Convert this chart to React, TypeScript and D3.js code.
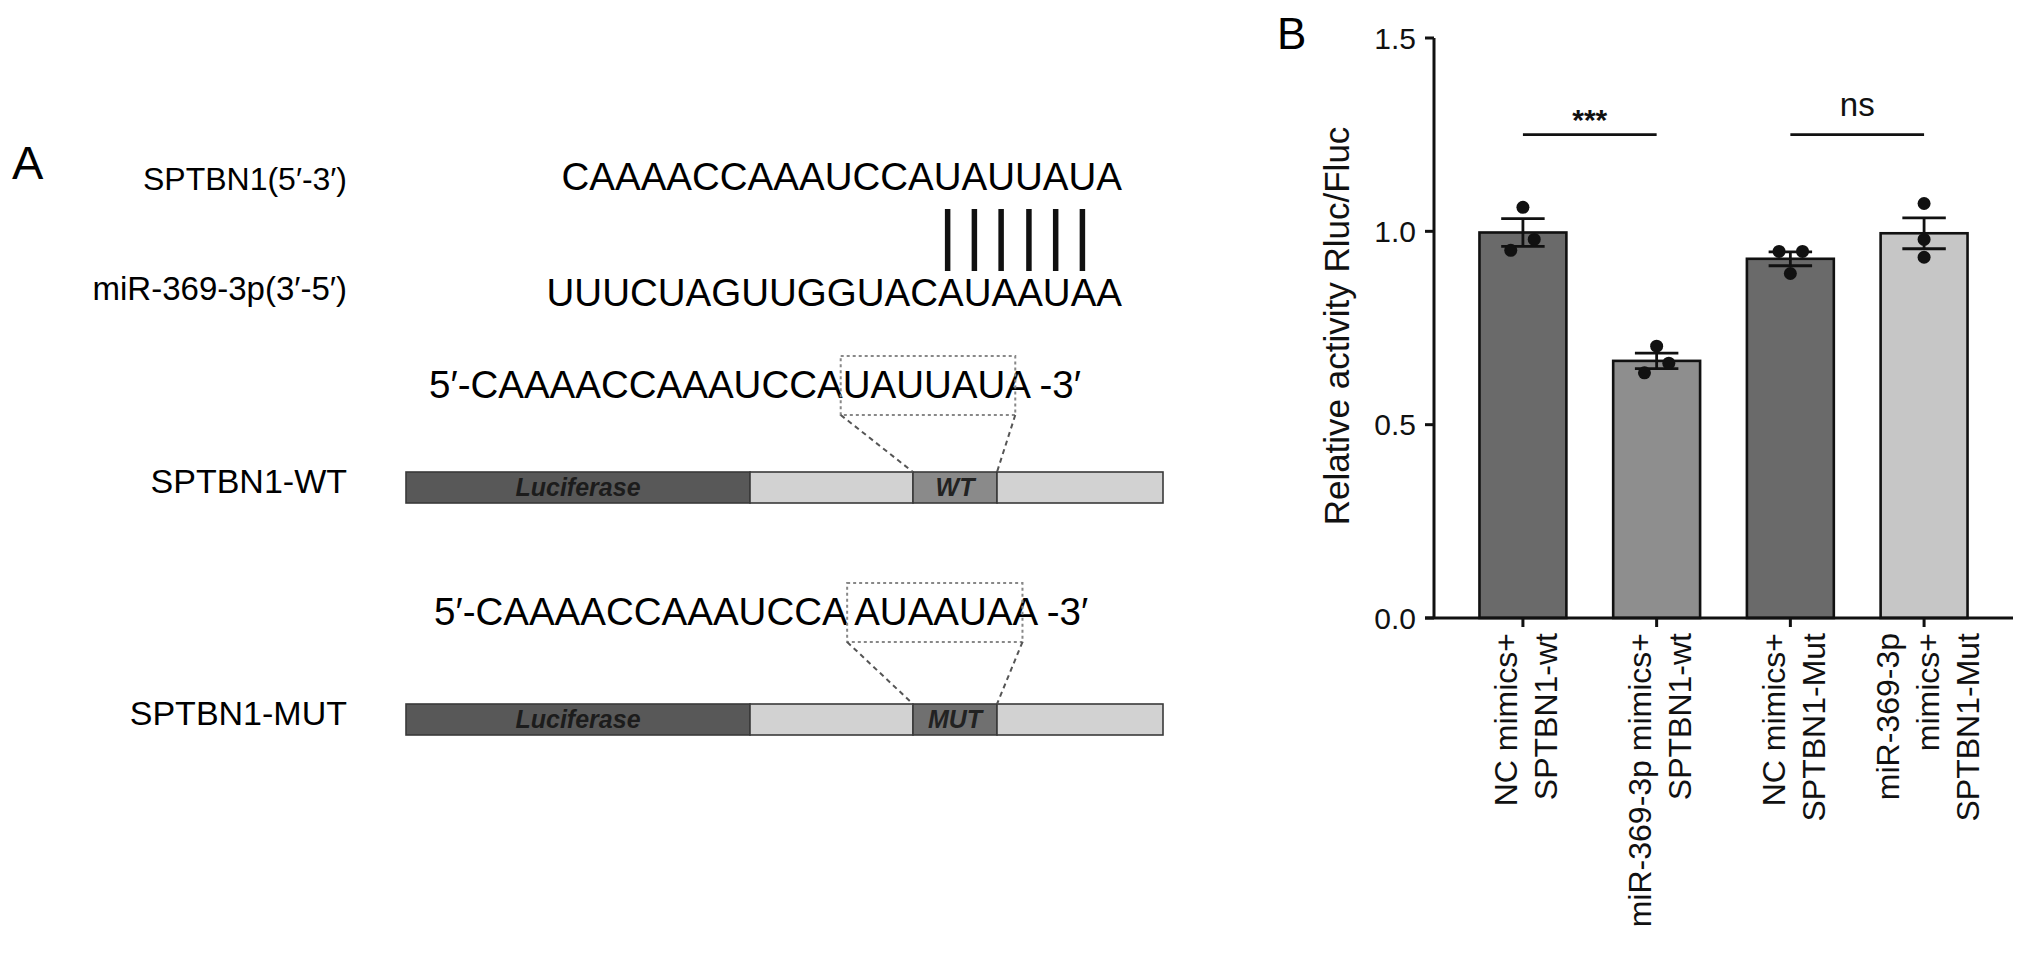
import React, { useLayoutEffect, useRef, useState } from "react";
import * as d3 from "d3";

// ---------- Panel B data ----------
const groups = ["g1", "g2", "g3", "g4"];
const groupLabels: string[][] = [
  ["NC mimics+", "SPTBN1-wt"],
  ["miR-369-3p mimics+", "SPTBN1-wt"],
  ["NC mimics+", "SPTBN1-Mut"],
  ["miR-369-3p", "mimics+", "SPTBN1-Mut"],
];
const means = [0.997, 0.665, 0.929, 0.995];
const sems = [0.036, 0.02, 0.018, 0.04];
const replicates: number[][] = [
  [1.062, 0.951, 0.979],
  [0.703, 0.659, 0.634],
  [0.948, 0.948, 0.891],
  [1.072, 0.979, 0.933],
];
// horizontal jitter of replicate dots, as a fraction of bar width
const jitter: number[][] = [
  [0, -0.14, 0.13],
  [0, 0.14, -0.14],
  [-0.13, 0.14, 0],
  [0, 0, 0],
];
const barFills = ["#6a6a6a", "#8e8e8e", "#6a6a6a", "#c6c6c6"];
const yTicks = [0, 0.5, 1.0, 1.5];
const comparisons: { a: number; b: number; label: string; y: number }[] = [
  { a: 0, b: 1, label: "***", y: 1.25 },
  { a: 2, b: 3, label: "ns", y: 1.25 },
];
const yTitle = "Relative activity Rluc/Fluc";

// ---------- Panel A data ----------
const targetLabel = "SPTBN1(5\u2032-3\u2032)";
const mirLabel = "miR-369-3p(3\u2032-5\u2032)";
const targetSeq = "CAAAACCAAAUCCAUAUUAUA";
const mirSeq = "UUUCUAGUUGGUACAUAAUAA";
const pairIdx = [14, 15, 16, 17, 18, 19];
const wtSeq = "5\u2032-CAAAACCAAAUCCAUAUUAUA -3\u2032";
const mutSeq = "5\u2032-CAAAACCAAAUCCA AUAAUAA -3\u2032";
const wtSeedStart = 17;
const mutSeedStart = 18;
const constructSegs = [344, 163, 84, 166];
const constructs = [
  { label: "SPTBN1-WT", site: "WT", siteFill: "#8a8a8a" },
  { label: "SPTBN1-MUT", site: "MUT", siteFill: "#707070" },
];

const FONT = "'Liberation Sans', Arial, Helvetica, sans-serif";

type Box = { x0: number; x1: number };

export default function App() {
  // ---- scales for panel B ----
  const y = d3.scaleLinear().domain([0, 1.5]).range([618, 38]);
  const x = d3
    .scaleBand<string>()
    .domain(groups)
    .range([1434, 2013])
    .paddingInner(0.35)
    .paddingOuter(0.34);
  const bw = x.bandwidth();
  const cx = (i: number) => (x(groups[i]) as number) + bw / 2;

  // ---- scales for panel A ----
  const segCum = constructSegs.reduce<number[]>((acc, v) => {
    acc.push((acc.length ? acc[acc.length - 1] : 0) + v);
    return acc;
  }, []);
  const cs = d3.scaleLinear().domain([0, segCum[segCum.length - 1]]).range([406, 1163]);
  const segStarts = [0, ...segCum.slice(0, -1)];
  const rowY = d3.scaleOrdinal<number, number>().domain([0, 1]).range([398, 625]);
  const barY = d3.scaleOrdinal<number, number>().domain([0, 1]).range([472, 704]);
  const barH = 31;

  const row1Ref = useRef<SVGTextElement>(null);
  const wtRef = useRef<SVGTextElement>(null);
  const mutRef = useRef<SVGTextElement>(null);
  const [pairX, setPairX] = useState<number[]>([]);
  const [boxes, setBoxes] = useState<Box[]>([]);

  useLayoutEffect(() => {
    const r1 = row1Ref.current;
    if (r1) {
      setPairX(
        pairIdx.map(
          (i) => (r1.getStartPositionOfChar(i).x + r1.getEndPositionOfChar(i).x) / 2
        )
      );
    }
    const b: Box[] = [];
    const w = wtRef.current;
    if (w) {
      b.push({
        x0: w.getStartPositionOfChar(wtSeedStart).x - 2,
        x1: w.getStartPositionOfChar(wtSeedStart + 6).x + 10,
      });
    }
    const m = mutRef.current;
    if (m) {
      b.push({
        x0: m.getStartPositionOfChar(mutSeedStart).x - 7,
        x1: m.getStartPositionOfChar(mutSeedStart + 6).x + 10,
      });
    }
    setBoxes(b);
  }, []);

  return (
    <div style={{ position: "absolute", left: 0, top: 0 }}>
      <svg width={2032} height={961} style={{ display: "block", background: "#fff" }} fontFamily={FONT}>
        <rect x={0} y={0} width={2032} height={961} fill="#fff" />

        {/* ================= Panel A ================= */}
        <text x={12} y={179} fontSize={47}>A</text>
        <text x={347} y={190} fontSize={32} textAnchor="end">{targetLabel}</text>
        <text x={347} y={300} fontSize={33} textAnchor="end">{mirLabel}</text>
        <text ref={row1Ref} x={1122} y={190} fontSize={38.5} textAnchor="end">{targetSeq}</text>
        <text x={1122} y={306} fontSize={38.5} textAnchor="end">{mirSeq}</text>
        {pairX.map((px, i) => (
          <line key={i} x1={px} x2={px} y1={209} y2={271} stroke="#111" strokeWidth={5.5} />
        ))}

        <text ref={wtRef} x={429} y={rowY(0)} fontSize={38.5}>{wtSeq}</text>
        <text ref={mutRef} x={434} y={rowY(1)} fontSize={38.5}>{mutSeq}</text>

        {constructs.map((c, ci) => {
          const by = barY(ci);
          const box = boxes[ci];
          const siteX0 = cs(segStarts[2]);
          const siteX1 = cs(segCum[2]);
          const ry = rowY(ci);
          return (
            <g key={ci}>
              <text x={347} y={by + 21} fontSize={34} textAnchor="end">{c.label}</text>
              {constructSegs.map((_, si) => (
                <rect
                  key={si}
                  x={cs(segStarts[si])}
                  y={by}
                  width={cs(segCum[si]) - cs(segStarts[si])}
                  height={barH}
                  fill={si === 0 ? "#585858" : si === 2 ? c.siteFill : "#d2d2d2"}
                  stroke="#3a3a3a"
                  strokeWidth={1.6}
                />
              ))}
              <text
                x={(cs(segStarts[0]) + cs(segCum[0])) / 2}
                y={by + 24}
                fontSize={25}
                fontWeight="bold"
                fontStyle="italic"
                textAnchor="middle"
                fill="#1c1c1c"
              >
                Luciferase
              </text>
              <text
                x={(siteX0 + siteX1) / 2}
                y={by + 24}
                fontSize={25}
                fontWeight="bold"
                fontStyle="italic"
                textAnchor="middle"
                fill="#222"
              >
                {c.site}
              </text>
              {box && (
                <g stroke="#888" strokeWidth={2} fill="none" strokeDasharray="3,3">
                  <rect x={box.x0} y={ry - 42} width={box.x1 - box.x0} height={59} />
                  <line x1={box.x0} y1={ry + 17} x2={siteX0} y2={by} stroke="#555" strokeDasharray="5,4" />
                  <line x1={box.x1} y1={ry + 17} x2={siteX1} y2={by} stroke="#555" strokeDasharray="5,4" />
                </g>
              )}
            </g>
          );
        })}

        {/* ================= Panel B ================= */}
        <text x={1277} y={49} fontSize={44}>B</text>

        {/* bars */}
        {groups.map((g, i) => (
          <rect
            key={g}
            x={x(g)}
            y={y(means[i])}
            width={bw}
            height={y(0) - y(means[i])}
            fill={barFills[i]}
            stroke="#111"
            strokeWidth={2.6}
          />
        ))}

        {/* error bars */}
        {groups.map((g, i) => {
          const c = cx(i);
          const hi = y(means[i] + sems[i]);
          const lo = y(means[i] - sems[i]);
          const cw = bw * 0.25;
          return (
            <g key={g} stroke="#111" strokeWidth={2.8}>
              <line x1={c} x2={c} y1={hi} y2={lo} />
              <line x1={c - cw} x2={c + cw} y1={hi} y2={hi} />
              <line x1={c - cw} x2={c + cw} y1={lo} y2={lo} />
            </g>
          );
        })}

        {/* replicate dots */}
        {replicates.map((vals, i) =>
          vals.map((v, j) => (
            <circle key={`${i}-${j}`} cx={cx(i) + jitter[i][j] * bw} cy={y(v)} r={6.5} fill="#111" />
          ))
        )}

        {/* axes */}
        <line x1={1434} x2={1434} y1={y(1.5)} y2={y(0)} stroke="#111" strokeWidth={3} />
        <line x1={1425} x2={2013} y1={y(0)} y2={y(0)} stroke="#111" strokeWidth={3} />
        {yTicks.map((t) => (
          <g key={t}>
            <line x1={1425} x2={1434} y1={y(t)} y2={y(t)} stroke="#111" strokeWidth={3} />
            <text x={1416} y={y(t)} dy="0.36em" fontSize={30} textAnchor="end" fill="#111">
              {d3.format(".1f")(t)}
            </text>
          </g>
        ))}
        {groups.map((g, i) => (
          <line key={g} x1={cx(i)} x2={cx(i)} y1={y(0)} y2={y(0) + 9} stroke="#111" strokeWidth={3} />
        ))}

        {/* x labels */}
        {groupLabels.map((lines, i) => {
          const n = lines.length;
          return (
            <text
              key={i}
              transform={`translate(${cx(i) + 3},633) rotate(-90)`}
              fontSize={32}
              textAnchor="end"
              fill="#111"
            >
              {lines.map((ln, k) => (
                <tspan key={k} x={0} y={(k - (n - 1) / 2) * 40} dy="0.36em">
                  {ln}
                </tspan>
              ))}
            </text>
          );
        })}

        {/* y title */}
        <text
          transform={`translate(1336,326) rotate(-90)`}
          fontSize={35}
          textAnchor="middle"
          dy="0.36em"
          fill="#111"
        >
          {yTitle}
        </text>

        {/* significance */}
        {comparisons.map((c, i) => (
          <g key={i}>
            <line x1={cx(c.a)} x2={cx(c.b)} y1={y(c.y)} y2={y(c.y)} stroke="#111" strokeWidth={2.6} />
            <text
              x={(cx(c.a) + cx(c.b)) / 2}
              y={c.label === "ns" ? y(c.y) - 19 : y(c.y) - 5}
              fontSize={c.label === "ns" ? 33 : 30}
              fontWeight={c.label === "ns" ? "normal" : "bold"}
              textAnchor="middle"
              fill="#111"
            >
              {c.label}
            </text>
          </g>
        ))}
      </svg>
    </div>
  );
}
